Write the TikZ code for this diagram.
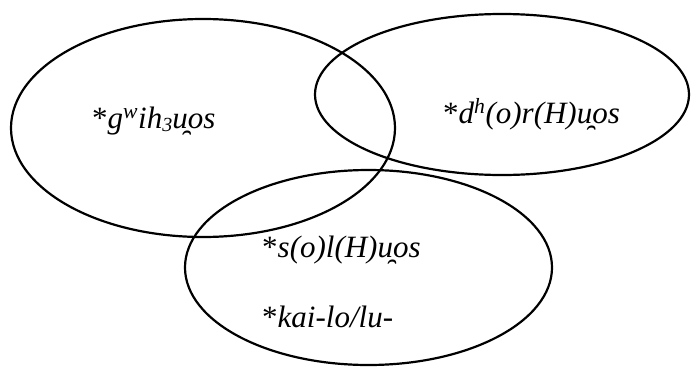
\documentclass[tikz,border=0pt]{standalone}
\usepackage{fontspec}
\setmainfont{Liberation Serif}
\newcommand\ubrv{u\char"032F}
\newcommand\subthree{\raisebox{-0.12em}{\fontsize{20}{20}\selectfont 3}}
\begin{document}
\begin{tikzpicture}[x=1pt,y=-1pt,
  ring/.style={draw=black,line width=2.2pt},
  word/.style={anchor=base west,inner sep=0pt,font=\fontsize{31}{36}\selectfont}]
\useasboundingbox (0,0) rectangle (691,367);
\draw[ring] (203,128) ellipse [x radius=192,y radius=109];
\draw[ring] (502,94.5) ellipse [x radius=187,y radius=80.5];
\draw[ring] (368.5,267.5) ellipse [x radius=183.5,y radius=97.5];
\node[word] (g) at (92,128) {*\textit{g\textsuperscript{w}ih\subthree\ubrv os}};
\node[word] (d) at (443,123) {*\textit{d\textsuperscript{h}(o)r(H)\ubrv os}};
\node[word] (s) at (262,257) {*\textit{s(o)l(H)\ubrv os}};
\node[word] (k) at (262,327) {*\textit{kai-lo/lu-}};
\end{tikzpicture}
\end{document}
